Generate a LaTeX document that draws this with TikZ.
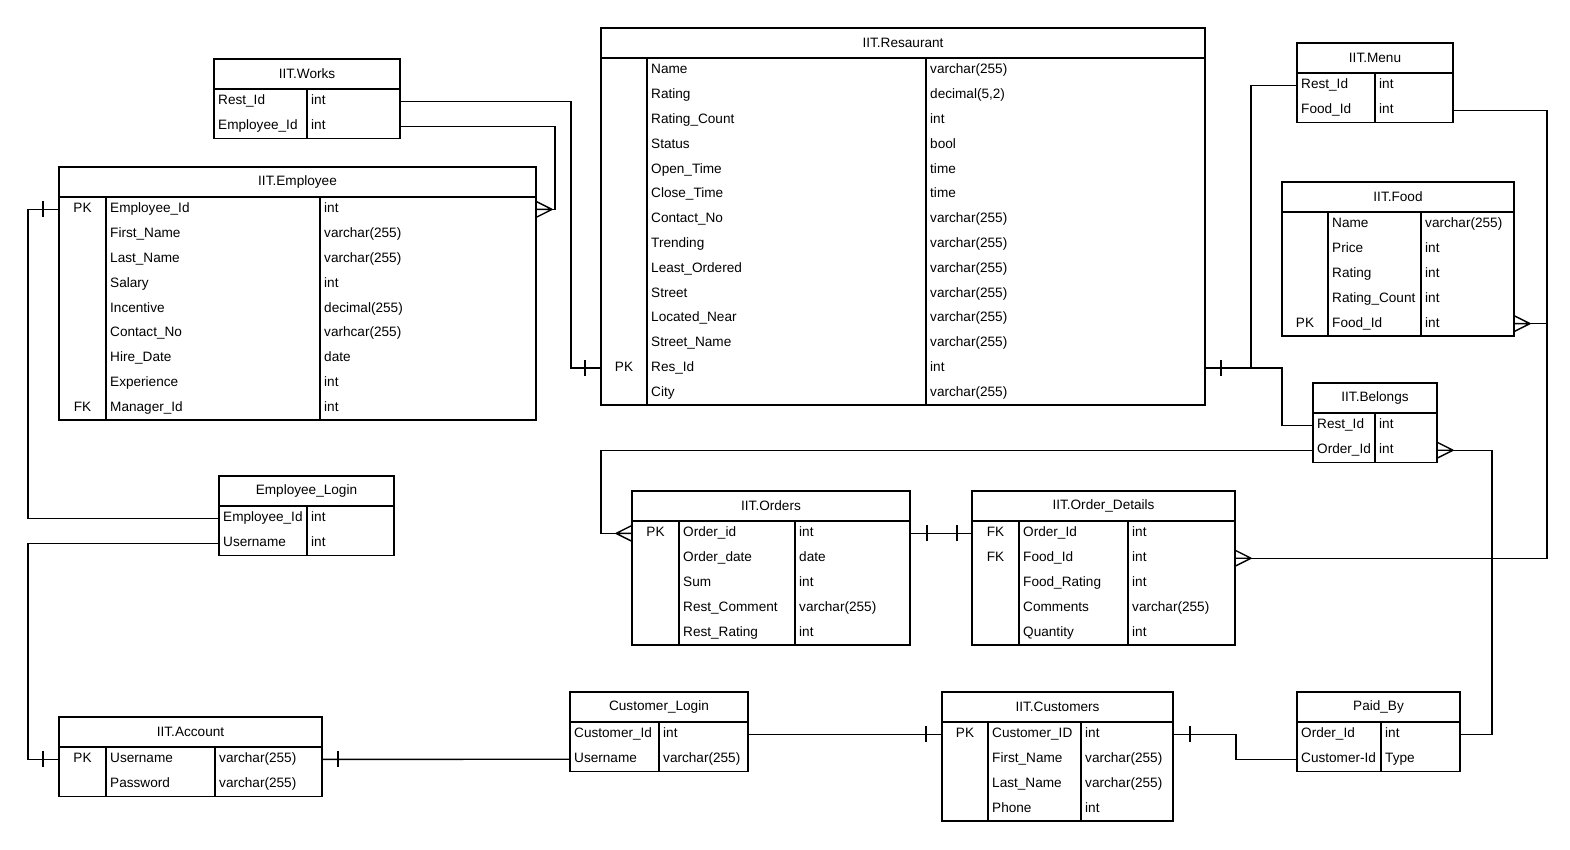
\documentclass[tikz,border=0pt]{standalone}
\usepackage{fontspec}
\setmainfont{Liberation Sans}
\usepackage{tikz}
\usetikzlibrary{positioning}
\usetikzlibrary{calc}

\begin{document}
\begin{tikzpicture}[x=1pt, y=-1pt, font=\fontsize{13.6}{16}\selectfont,
    hdr/.style={draw, line width=1.5pt, anchor=north west, minimum height=30pt, inner sep=0pt, outer sep=0pt},
    body/.style={draw, line width=1.5pt, inner sep=0pt, outer sep=0pt},
    col/.style={line width=1.5pt},
    key/.style={anchor=center, inner sep=0pt, text height=9.8pt, text depth=2.8pt},
    fld/.style={anchor=west, inner sep=0pt, text height=9.8pt, text depth=2.8pt},
    link/.style={line width=1.4pt},
    crow/.pic={\draw[link] (0,0) -- (-16,-8) (0,0) -- (-16,0) (0,0) -- (-16,8);},
    bar/.pic={\draw[link] (0,-8) -- (0,8);}]

    \useasboundingbox (0,0) rectangle (1570,849);

    % works
    \node[hdr, minimum width=186pt] (works-h) at (214,59) {IIT.Works};
    \node[body, below=0pt of works-h, minimum width=186pt, minimum height=49.6pt] (works) {};
    \draw[col] ($(works.north west)+(93,0)$) -- ($(works.south west)+(93,0)$);
    \foreach \f/\t [count=\i] in {Rest\_Id/int, Employee\_Id/int}{
        \node[fld] (works-\i) at ($(works.north west)+(4,{24.8*\i-12.4})$) {\f};
        \node[fld] (works-t\i) at ($(works.north west)+(97,{24.8*\i-12.4})$) {\t};
    }

    % employee
    \node[hdr, minimum width=477pt] (emp-h) at (59,167) {IIT.Employee};
    \node[body, below=0pt of emp-h, minimum width=477pt, minimum height=223.2pt] (emp) {};
    \draw[col] ($(emp.north west)+(47,0)$) -- ($(emp.south west)+(47,0)$)
               ($(emp.north west)+(261,0)$) -- ($(emp.south west)+(261,0)$);
    \foreach \k/\f/\t [count=\i] in {PK/Employee\_Id/int, /First\_Name/varchar(255),
        /Last\_Name/varchar(255), /Salary/int, /Incentive/decimal(255),
        /Contact\_No/varhcar(255), /Hire\_Date/date, /Experience/int, FK/Manager\_Id/int}{
        \node[key] (emp-k\i) at ($(emp.north west)+(23.5,{24.8*\i-12.4})$) {\k};
        \node[fld] (emp-\i) at ($(emp.north west)+(51,{24.8*\i-12.4})$) {\f};
        \node[fld] (emp-t\i) at ($(emp.north west)+(265,{24.8*\i-12.4})$) {\t};
    }

    % resaurant
    \node[hdr, minimum width=604pt] (res-h) at (601,28) {IIT.Resaurant};
    \node[body, below=0pt of res-h, minimum width=604pt, minimum height=347.2pt] (res) {};
    \draw[col] ($(res.north west)+(46,0)$) -- ($(res.south west)+(46,0)$)
               ($(res.north west)+(325,0)$) -- ($(res.south west)+(325,0)$);
    \foreach \k/\f/\t [count=\i] in {/Name/varchar(255), /Rating/{decimal(5,2)},
        /Rating\_Count/int, /Status/bool, /Open\_Time/time, /Close\_Time/time,
        /Contact\_No/varchar(255), /Trending/varchar(255), /Least\_Ordered/varchar(255),
        /Street/varchar(255), /Located\_Near/varchar(255), /Street\_Name/varchar(255),
        PK/Res\_Id/int, /City/varchar(255)}{
        \node[key] (res-k\i) at ($(res.north west)+(23,{24.8*\i-12.4})$) {\k};
        \node[fld] (res-\i) at ($(res.north west)+(50,{24.8*\i-12.4})$) {\f};
        \node[fld] (res-t\i) at ($(res.north west)+(329,{24.8*\i-12.4})$) {\t};
    }

    % menu
    \node[hdr, minimum width=156pt] (menu-h) at (1297,43) {IIT.Menu};
    \node[body, below=0pt of menu-h, minimum width=156pt, minimum height=49.6pt] (menu) {};
    \draw[col] ($(menu.north west)+(78,0)$) -- ($(menu.south west)+(78,0)$);
    \foreach \f/\t [count=\i] in {Rest\_Id/int, Food\_Id/int}{
        \node[fld] (menu-\i) at ($(menu.north west)+(4,{24.8*\i-12.4})$) {\f};
        \node[fld] (menu-t\i) at ($(menu.north west)+(82,{24.8*\i-12.4})$) {\t};
    }

    % food
    \node[hdr, minimum width=232pt] (food-h) at (1282,182) {IIT.Food};
    \node[body, below=0pt of food-h, minimum width=232pt, minimum height=124pt] (food) {};
    \draw[col] ($(food.north west)+(46,0)$) -- ($(food.south west)+(46,0)$)
               ($(food.north west)+(139,0)$) -- ($(food.south west)+(139,0)$);
    \foreach \k/\f/\t [count=\i] in {/Name/varchar(255), /Price/int, /Rating/int,
        /Rating\_Count/int, PK/Food\_Id/int}{
        \node[key] (food-k\i) at ($(food.north west)+(23,{24.8*\i-12.4})$) {\k};
        \node[fld] (food-\i) at ($(food.north west)+(50,{24.8*\i-12.4})$) {\f};
        \node[fld] (food-t\i) at ($(food.north west)+(143,{24.8*\i-12.4})$) {\t};
    }

    % belongs
    \node[hdr, minimum width=124pt] (bel-h) at (1313,383) {IIT.Belongs};
    \node[body, below=0pt of bel-h, minimum width=124pt, minimum height=49.6pt] (bel) {};
    \draw[col] ($(bel.north west)+(62,0)$) -- ($(bel.south west)+(62,0)$);
    \foreach \f/\t [count=\i] in {Rest\_Id/int, Order\_Id/int}{
        \node[fld] (bel-\i) at ($(bel.north west)+(4,{24.8*\i-12.4})$) {\f};
        \node[fld] (bel-t\i) at ($(bel.north west)+(66,{24.8*\i-12.4})$) {\t};
    }

    % employee login
    \node[hdr, minimum width=175pt] (elog-h) at (219,476) {Employee\_Login};
    \node[body, below=0pt of elog-h, minimum width=175pt, minimum height=49.6pt] (elog) {};
    \draw[col] ($(elog.north west)+(88,0)$) -- ($(elog.south west)+(88,0)$);
    \foreach \f/\t [count=\i] in {Employee\_Id/int, Username/int}{
        \node[fld] (elog-\i) at ($(elog.north west)+(4,{24.8*\i-12.4})$) {\f};
        \node[fld] (elog-t\i) at ($(elog.north west)+(92,{24.8*\i-12.4})$) {\t};
    }

    % orders
    \node[hdr, minimum width=278pt] (ord-h) at (632,491) {IIT.Orders};
    \node[body, below=0pt of ord-h, minimum width=278pt, minimum height=124pt] (ord) {};
    \draw[col] ($(ord.north west)+(47,0)$) -- ($(ord.south west)+(47,0)$)
               ($(ord.north west)+(163,0)$) -- ($(ord.south west)+(163,0)$);
    \foreach \k/\f/\t [count=\i] in {PK/Order\_id/int, /Order\_date/date, /Sum/int,
        /Rest\_Comment/varchar(255), /Rest\_Rating/int}{
        \node[key] (ord-k\i) at ($(ord.north west)+(23.5,{24.8*\i-12.4})$) {\k};
        \node[fld] (ord-\i) at ($(ord.north west)+(51,{24.8*\i-12.4})$) {\f};
        \node[fld] (ord-t\i) at ($(ord.north west)+(167,{24.8*\i-12.4})$) {\t};
    }

    % order details
    \node[hdr, minimum width=263pt] (od-h) at (972,491) {IIT.Order\_Details};
    \node[body, below=0pt of od-h, minimum width=263pt, minimum height=124pt] (od) {};
    \draw[col] ($(od.north west)+(47,0)$) -- ($(od.south west)+(47,0)$)
               ($(od.north west)+(156,0)$) -- ($(od.south west)+(156,0)$);
    \foreach \k/\f/\t [count=\i] in {FK/Order\_Id/int, FK/Food\_Id/int, /Food\_Rating/int,
        /Comments/varchar(255), /Quantity/int}{
        \node[key] (od-k\i) at ($(od.north west)+(23.5,{24.8*\i-12.4})$) {\k};
        \node[fld] (od-\i) at ($(od.north west)+(51,{24.8*\i-12.4})$) {\f};
        \node[fld] (od-t\i) at ($(od.north west)+(160,{24.8*\i-12.4})$) {\t};
    }

    % account
    \node[hdr, minimum width=263pt] (acc-h) at (59,717) {IIT.Account};
    \node[body, below=0pt of acc-h, minimum width=263pt, minimum height=49.6pt] (acc) {};
    \draw[col] ($(acc.north west)+(47,0)$) -- ($(acc.south west)+(47,0)$)
               ($(acc.north west)+(156,0)$) -- ($(acc.south west)+(156,0)$);
    \foreach \k/\f/\t [count=\i] in {PK/Username/varchar(255), /Password/varchar(255)}{
        \node[key] (acc-k\i) at ($(acc.north west)+(23.5,{24.8*\i-12.4})$) {\k};
        \node[fld] (acc-\i) at ($(acc.north west)+(51,{24.8*\i-12.4})$) {\f};
        \node[fld] (acc-t\i) at ($(acc.north west)+(160,{24.8*\i-12.4})$) {\t};
    }

    % customer login
    \node[hdr, minimum width=178pt] (clog-h) at (570,692) {Customer\_Login};
    \node[body, below=0pt of clog-h, minimum width=178pt, minimum height=49.6pt] (clog) {};
    \draw[col] ($(clog.north west)+(89,0)$) -- ($(clog.south west)+(89,0)$);
    \foreach \f/\t [count=\i] in {Customer\_Id/int, Username/varchar(255)}{
        \node[fld] (clog-\i) at ($(clog.north west)+(4,{24.8*\i-12.4})$) {\f};
        \node[fld] (clog-t\i) at ($(clog.north west)+(93,{24.8*\i-12.4})$) {\t};
    }

    % customers
    \node[hdr, minimum width=231pt] (cust-h) at (942,692) {IIT.Customers};
    \node[body, below=0pt of cust-h, minimum width=231pt, minimum height=99.2pt] (cust) {};
    \draw[col] ($(cust.north west)+(46,0)$) -- ($(cust.south west)+(46,0)$)
               ($(cust.north west)+(139,0)$) -- ($(cust.south west)+(139,0)$);
    \foreach \k/\f/\t [count=\i] in {PK/Customer\_ID/int, /First\_Name/varchar(255),
        /Last\_Name/varchar(255), /Phone/int}{
        \node[key] (cust-k\i) at ($(cust.north west)+(23,{24.8*\i-12.4})$) {\k};
        \node[fld] (cust-\i) at ($(cust.north west)+(50,{24.8*\i-12.4})$) {\f};
        \node[fld] (cust-t\i) at ($(cust.north west)+(143,{24.8*\i-12.4})$) {\t};
    }

    % paid by
    \node[hdr, minimum width=163pt] (paid-h) at (1297,692) {Paid\_By};
    \node[body, below=0pt of paid-h, minimum width=163pt, minimum height=49.6pt] (paid) {};
    \draw[col] ($(paid.north west)+(84,0)$) -- ($(paid.south west)+(84,0)$);
    \foreach \f/\t [count=\i] in {Order\_Id/int, Customer-Id/Type}{
        \node[fld] (paid-\i) at ($(paid.north west)+(4,{24.8*\i-12.4})$) {\f};
        \node[fld] (paid-t\i) at ($(paid.north west)+(88,{24.8*\i-12.4})$) {\t};
    }

    % works links
    \draw[link] (works-1 -| works.east) -- ++(171,0) |- (res-13 -| res.west);
    \pic at ($(res-13 -| res.west)+(-16,0)$) {bar};
    \draw[link] (works-2 -| works.east) -- ++(155,0) |- (emp-1 -| emp.east);
    \pic at ($(emp-1 -| emp.east)+(16,0)$) {crow};

    % login links
    \draw[link] (elog-1 -| elog.west) -- ++(-191,0) |- (emp-1 -| emp.west);
    \pic at ($(emp-1 -| emp.west)+(-16,0)$) {bar};
    \draw[link] (elog-2 -| elog.west) -- ++(-191,0) |- (acc-1 -| acc.west);
    \pic at ($(acc-1 -| acc.west)+(-16,0)$) {bar};
    \draw[link] (acc-1 -| acc.east) -- (clog-2 -| clog.west);
    \pic at ($(acc-1 -| acc.east)+(16,0)$) {bar};
    \draw[link] (clog-1 -| clog.east) -- (cust-1 -| cust.west);
    \pic at ($(cust-1 -| cust.west)+(-16,0)$) {bar};

    % customers, paid by, belongs
    \draw[link] (cust-1 -| cust.east) -- ++(63,0) |- (paid-2 -| paid.west);
    \pic at ($(cust-1 -| cust.east)+(17,0)$) {bar};
    \draw[link] (paid-1 -| paid.east) -- ++(32,0) |- (bel-2 -| bel.east);
    \pic at ($(bel-2 -| bel.east)+(16,0)$) {crow};
    \draw[link] (bel-2 -| bel.west) -- ++(-712,0) |- (ord-1 -| ord.west);
    \pic[xscale=-1] at ($(ord-1 -| ord.west)+(-16,0)$) {crow};

    % orders, details, food
    \draw[link] (ord-1 -| ord.east) -- (od-1 -| od.west);
    \pic at ($(ord-1 -| ord.east)+(17,0)$) {bar};
    \pic at ($(od-1 -| od.west)+(-15,0)$) {bar};
    \draw[link] (od-2 -| od.east) -- ++(312,0) |- (food-5 -| food.east);
    \pic at ($(od-2 -| od.east)+(16,0)$) {crow};
    \pic at ($(food-5 -| food.east)+(16,0)$) {crow};
    \draw[link] (menu-2 -| menu.east) -- ++(94,0) |- (food-5 -| food.east);

    % resaurant links
    \draw[link] (res-13 -| res.east) -- ++(46,0) |- (menu-1 -| menu.west);
    \draw[link] (res-13 -| res.east) -- ++(77,0) |- (bel-1 -| bel.west);
    \pic at ($(res-13 -| res.east)+(16,0)$) {bar};
\end{tikzpicture}
\end{document}
